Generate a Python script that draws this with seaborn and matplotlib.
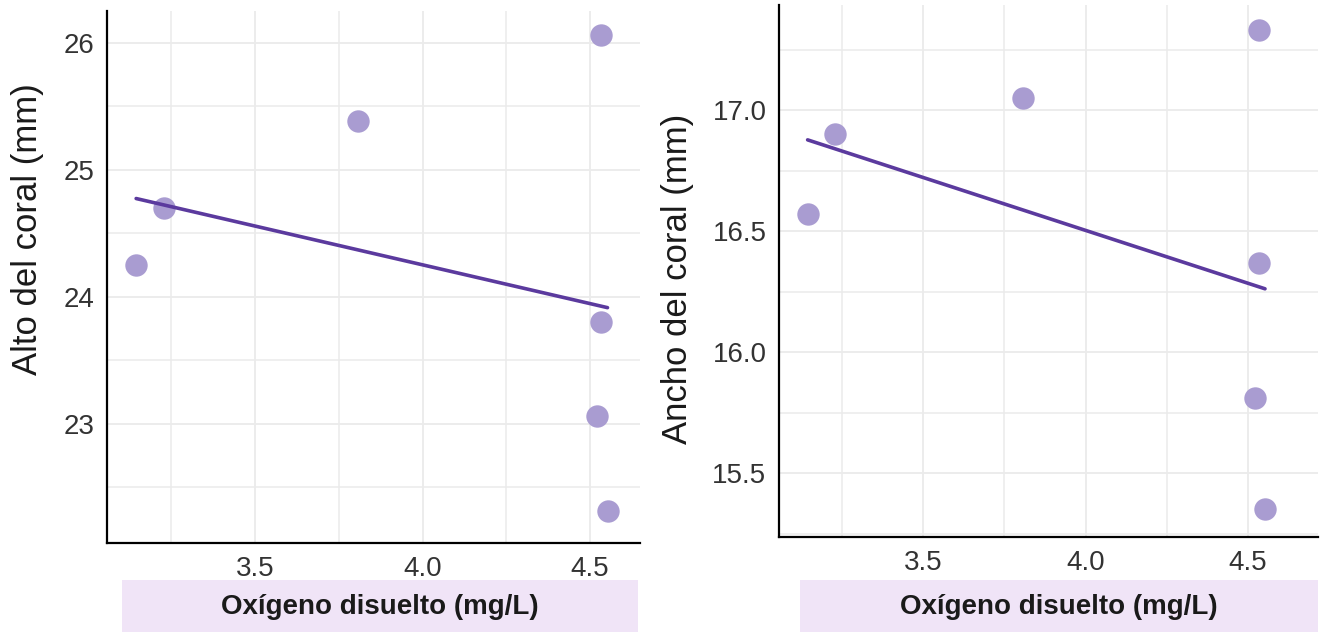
import matplotlib
matplotlib.use("Agg")
import matplotlib.pyplot as plt
from matplotlib.patches import Rectangle
from matplotlib.ticker import MultipleLocator, FormatStrFormatter
import seaborn as sns
import pandas as pd

# ---- data ----
oxigeno = [3.145, 3.228, 3.807, 4.533, 4.533, 4.522, 4.552]
alto = [24.25, 24.70, 25.38, 26.06, 23.80, 23.06, 22.31]
ancho = [16.57, 16.90, 17.05, 17.33, 16.37, 15.81, 15.35]
xlabel = "Oxígeno disuelto (mg/L)"
ylabels = ["Alto del coral (mm)", "Ancho del coral (mm)"]

df = pd.DataFrame({"oxigeno": oxigeno, "alto": alto, "ancho": ancho})

sns.set_theme(style="white")
plt.rcParams["font.family"] = ["Liberation Sans", "DejaVu Sans"]

W, H = 1322, 632
fig = plt.figure(figsize=(W / 100, H / 100), dpi=100)

def rect(x0, x1, ytop, ybot):
    return [x0 / W, (H - ybot) / H, (x1 - x0) / W, (ybot - ytop) / H]

point_color = "#A99CD1"
line_color = "#5B3A9E"
grid_color = "#EBEBEB"

panels = [
    dict(col="alto", rect=rect(107, 640, 11, 543), xlim=(3.058, 4.649), ylim=(22.06, 26.25),
         major=1.0, minor=0.5, fmt="%d", ylab_xy=(28, 229), box=(122, 638), xlab_x=380),
    dict(col="ancho", rect=rect(779, 1318, 5, 537), xlim=(3.057, 4.715), ylim=(15.236, 17.434),
         major=0.5, minor=0.25, fmt="%.1f", ylab_xy=(677, 279), box=(800, 1318), xlab_x=1059),
]

for p, ylab in zip(panels, ylabels):
    bx0, bx1 = p["box"]
    box = Rectangle((bx0 / W, 0), (bx1 - bx0) / W, (H - 580) / H,
                    transform=fig.transFigure, facecolor="#F0E4F7",
                    edgecolor="none", zorder=-5)
    fig.add_artist(box)

    ax = fig.add_axes(p["rect"])
    ax.set_zorder(1)
    ax.patch.set_alpha(0)
    sns.regplot(data=df, x="oxigeno", y=p["col"], ax=ax, ci=None,
                scatter_kws=dict(s=260, color=point_color, alpha=1, linewidths=0, zorder=3),
                line_kws=dict(color=line_color, lw=2.6, zorder=4))
    ax.set_xlim(*p["xlim"])
    ax.set_ylim(*p["ylim"])
    ax.xaxis.set_major_locator(MultipleLocator(0.5))
    ax.xaxis.set_minor_locator(MultipleLocator(0.25))
    ax.xaxis.set_major_formatter(FormatStrFormatter("%.1f"))
    ax.yaxis.set_major_locator(MultipleLocator(p["major"]))
    ax.yaxis.set_minor_locator(MultipleLocator(p["minor"]))
    ax.yaxis.set_major_formatter(FormatStrFormatter(p["fmt"]))
    ax.grid(True, which="major", color=grid_color, lw=1.3, zorder=0)
    ax.grid(True, which="minor", color=grid_color, lw=1.1, zorder=0)
    ax.set_axisbelow(True)
    for s in ["top", "right"]:
        ax.spines[s].set_visible(False)
    for s in ["left", "bottom"]:
        ax.spines[s].set_color("black")
        ax.spines[s].set_linewidth(1.6)
    ax.tick_params(which="both", length=0, labelsize=20, labelcolor="#333333", pad=9)
    ax.set_ylabel(ylab, fontsize=25, color="#1a1a1a", va="center")
    ax.yaxis.set_label_coords(p["ylab_xy"][0] / W, 1 - p["ylab_xy"][1] / H, transform=fig.transFigure)
    ax.set_xlabel(xlabel, fontsize=20, fontweight="bold", color="#1a1a1a", va="center")
    ax.xaxis.set_label_coords(p["xlab_x"] / W, 1 - 607 / H, transform=fig.transFigure)

fig.savefig("out.png", dpi=100)
